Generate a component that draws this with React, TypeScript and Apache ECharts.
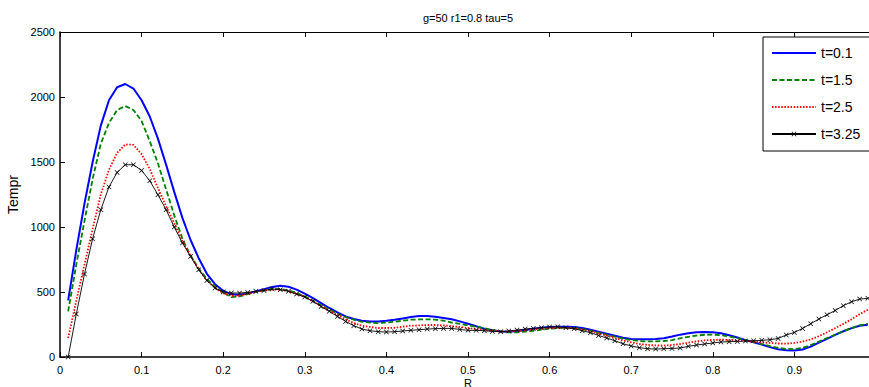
import React, { useEffect, useRef } from "react";
import * as echarts from "echarts";

const R = [
  0.01, 0.02, 0.03, 0.04, 0.05, 0.06, 0.07, 0.08, 0.09, 0.1,
  0.11, 0.12, 0.13, 0.14, 0.15, 0.16, 0.17, 0.18, 0.19, 0.2,
  0.21, 0.22, 0.23, 0.24, 0.25, 0.26, 0.27, 0.28, 0.29, 0.3,
  0.31, 0.32, 0.33, 0.34, 0.35, 0.36, 0.37, 0.38, 0.39, 0.4,
  0.41, 0.42, 0.43, 0.44, 0.45, 0.46, 0.47, 0.48, 0.49, 0.5,
  0.51, 0.52, 0.53, 0.54, 0.55, 0.56, 0.57, 0.58, 0.59, 0.6,
  0.61, 0.62, 0.63, 0.64, 0.65, 0.66, 0.67, 0.68, 0.69, 0.7,
  0.71, 0.72, 0.73, 0.74, 0.75, 0.76, 0.77, 0.78, 0.79, 0.8,
  0.81, 0.82, 0.83, 0.84, 0.85, 0.86, 0.87, 0.88, 0.89, 0.9,
  0.91, 0.92, 0.93, 0.94, 0.95, 0.96, 0.97, 0.98, 0.99,
];

const T_0_1 = [
  435, 823, 1180, 1500, 1780, 1975, 2075, 2100, 2065, 1975,
  1850, 1680, 1480, 1270, 1070, 900, 760, 640, 560, 510,
  482, 478, 488, 505, 522, 538, 548, 540, 518, 487,
  453, 415, 377, 343, 312, 292, 279, 274, 274, 279,
  287, 297, 307, 315, 316, 310, 300, 290, 274, 256,
  236, 218, 205, 197, 195, 200, 207, 218, 225, 231,
  233, 233, 231, 223, 210, 195, 179, 164, 148, 138,
  136, 136, 138, 145, 158, 172, 183, 190, 192, 190,
  182, 168, 150, 130, 113, 96, 76, 60, 52, 50,
  58, 80, 110, 140, 170, 198, 222, 241, 248,
];

const T_1_5 = [
  351, 712, 1046, 1370, 1640, 1800, 1900, 1930, 1900, 1815,
  1660, 1490, 1290, 1090, 910, 780, 680, 600, 540, 497,
  461, 466, 484, 500, 512, 523, 523, 512, 492, 466,
  433, 397, 364, 333, 307, 287, 271, 264, 261, 264,
  271, 279, 287, 289, 290, 287, 280, 265, 254, 243,
  233, 220, 207, 197, 189, 189, 195, 202, 210, 218,
  223, 225, 223, 215, 202, 187, 171, 156, 141, 131,
  123, 120, 120, 123, 130, 143, 155, 165, 171, 172,
  168, 158, 146, 130, 115, 100, 83, 70, 62, 61,
  70, 92, 118, 145, 172, 198, 222, 243, 256,
];

const T_2_5 = [
  146, 435, 710, 985, 1250, 1440, 1570, 1635, 1632, 1560,
  1445, 1300, 1160, 1030, 890, 780, 675, 590, 530, 490,
  471, 471, 487, 500, 510, 518, 518, 505, 484, 461,
  428, 389, 356, 323, 290, 261, 241, 231, 223, 223,
  225, 233, 241, 243, 246, 246, 243, 238, 231, 223,
  215, 207, 202, 197, 197, 200, 205, 212, 218, 223,
  225, 225, 220, 210, 197, 182, 164, 146, 128, 113,
  100, 93, 89, 88, 92, 100, 110, 120, 128, 132,
  133, 132, 128, 124, 118, 113, 108, 104, 103, 108,
  118, 135, 160, 190, 222, 255, 290, 330, 364,
];

const T_3_25 = [
  0, 331, 638, 910, 1133, 1308, 1420, 1479, 1479, 1435,
  1356, 1248, 1133, 1000, 877, 774, 671, 589, 531, 500,
  492, 492, 497, 505, 512, 523, 518, 505, 484, 461,
  428, 389, 351, 312, 274, 241, 215, 202, 195, 192,
  195, 200, 205, 210, 215, 218, 220, 220, 212, 205,
  205, 202, 197, 195, 200, 207, 215, 220, 225, 231,
  233, 225, 218, 202, 187, 166, 146, 125, 102, 85,
  72, 64, 61, 64, 66, 69, 82, 92, 100, 108,
  115, 118, 120, 123, 125, 128, 133, 143, 169, 189,
  220, 256, 292, 325, 358, 395, 425, 446, 451,
];

const SERIES_NAMES = ["t=0.1", "t=1.5", "t=2.5", "t=3.25"];
const X_TICKS = { min: 0, max: 1, interval: 0.1 };
const Y_TICKS = { min: 0, max: 2500, interval: 500 };
const TITLE = "g=50 r1=0.8 tau=5";
const X_NAME = "R";
const Y_NAME = "Tempr";

const CROSS =
  "path://M0,1L1,0L5,4L9,0L10,1L6,5L10,9L9,10L5,6L1,10L0,9L4,5Z";

export default function App() {
  const ref = useRef<HTMLDivElement>(null);

  useEffect(() => {
    if (!ref.current) return;
    const chart = echarts.init(ref.current, null, { renderer: "svg" });
    const font = "'Liberation Sans', Arial, Helvetica, sans-serif";
    const pair = (ys: number[]) => R.map((x, i) => [x, ys[i]]);
    const plain = (v: number) => String(v);
    const noMarker = { color: "rgba(0,0,0,0)", borderWidth: 0 };

    chart.setOption({
      animation: false,
      backgroundColor: "#ffffff",
      textStyle: { fontFamily: font, color: "#000" },
      title: {
        text: TITLE,
        left: 468,
        top: 12,
        textAlign: "center",
        padding: 0,
        textStyle: { fontSize: 11, fontWeight: "normal", color: "#000", fontFamily: font },
      },
      legend: {
        orient: "vertical",
        left: 763,
        top: 37,
        padding: [9, 30, 10, 8],
        itemWidth: 44,
        itemHeight: 6,
        itemGap: 13,
        backgroundColor: "#ffffff",
        borderColor: "#000",
        borderWidth: 1,
        borderRadius: 0,
        selectedMode: false,
        textStyle: { fontSize: 14, color: "#000", fontFamily: font },
        data: [
          { name: SERIES_NAMES[0], itemStyle: noMarker },
          { name: SERIES_NAMES[1], itemStyle: noMarker },
          { name: SERIES_NAMES[2], itemStyle: noMarker },
          { name: SERIES_NAMES[3] },
        ],
      },
      grid: {
        left: 60,
        top: 32,
        width: 816,
        height: 325,
        containLabel: false,
        outerBoundsMode: "none",
      },
      xAxis: [
        {
          type: "value",
          position: "bottom",
          ...X_TICKS,
          name: X_NAME,
          nameLocation: "middle",
          nameGap: 20,
          nameMoveOverlap: false,
          nameTextStyle: {
            fontSize: 11,
            color: "#000",
            fontFamily: font,
            verticalAlign: "top",
            lineHeight: 11,
          },
          axisLine: { onZero: false, lineStyle: { color: "#000", width: 1.5 } },
          axisTick: { inside: true, length: 5, lineStyle: { color: "#000" } },
          axisLabel: {
            color: "#000",
            fontSize: 11,
            margin: 7,
            lineHeight: 11,
            fontFamily: font,
            formatter: plain,
            showMaxLabel: false,
          },
          splitLine: { show: false },
        },
        {
          type: "value",
          position: "top",
          ...X_TICKS,
          axisLine: { onZero: false, lineStyle: { color: "#000", width: 1 } },
          axisTick: { inside: true, length: 5, lineStyle: { color: "#000" } },
          axisLabel: { show: false },
          splitLine: { show: false },
        },
      ],
      yAxis: [
        {
          type: "value",
          position: "left",
          ...Y_TICKS,
          name: Y_NAME,
          nameLocation: "middle",
          nameRotate: 90,
          nameGap: 34,
          nameTextStyle: { fontSize: 14, color: "#000", fontFamily: font },
          axisLine: { show: true, onZero: false, lineStyle: { color: "#000", width: 1.5 } },
          axisTick: { show: true, inside: true, length: 5, lineStyle: { color: "#000" } },
          axisLabel: { color: "#000", fontSize: 11, margin: 5, fontFamily: font, formatter: plain },
          splitLine: { show: false },
        },
      ],
      series: [
        {
          name: SERIES_NAMES[0],
          type: "line",
          data: pair(T_0_1),
          symbol: "none",
          lineStyle: { color: "#0000ff", width: 2 },
          itemStyle: { color: "#0000ff" },
        },
        {
          name: SERIES_NAMES[1],
          type: "line",
          data: pair(T_1_5),
          symbol: "none",
          lineStyle: { color: "#008000", width: 1.8, type: [5, 2.5] },
          itemStyle: { color: "#008000" },
        },
        {
          name: SERIES_NAMES[2],
          type: "line",
          data: pair(T_2_5),
          symbol: "none",
          lineStyle: { color: "#ff0000", width: 1.8, type: [1.5, 1.6] },
          itemStyle: { color: "#ff0000" },
        },
        {
          name: SERIES_NAMES[3],
          type: "line",
          data: pair(T_3_25),
          symbol: CROSS,
          symbolSize: 5,
          showSymbol: true,
          showAllSymbol: true,
          lineStyle: { color: "#000", width: 0.9 },
          itemStyle: { color: "#000" },
        },
      ],
    });

    return () => chart.dispose();
  }, []);

  return (
    <div
      ref={ref}
      style={{ position: "fixed", left: 0, top: 0, width: 869, height: 387, background: "#fff" }}
    />
  );
}
